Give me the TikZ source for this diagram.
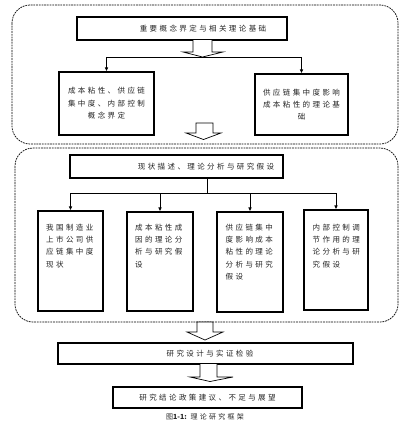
\documentclass[tikz,border=0pt]{standalone}
\usepackage{fontspec}
\newfontfamily\cjk[LetterSpace=32]{Noto Sans CJK SC}
\newfontfamily\cjkn{Noto Sans CJK SC}
\usetikzlibrary{arrows.meta}
\begin{document}
\begin{tikzpicture}[x=1pt,y=-1pt,
  dashbox/.style={draw, line width=0.7pt, dash pattern=on 1.8pt off 0.9pt, rounded corners=18pt},
  box/.style={draw, line width=1.1pt, fill=white, inner sep=0pt},
  txt/.style={font=\cjk\fontsize{7.5}{12.4}\selectfont, inner sep=0pt, text=black!85},
  barrow/.style={draw, line width=0.7pt, fill=white},
  conn/.style={line width=1pt},
  tip/.style={-{Latex[length=4pt,width=3.6pt]}}]
\useasboundingbox (0,0) rectangle (409,423);
% dashed frames
\draw[dashbox] (12,5) rectangle (398,144);
\draw[dashbox] (15,148) rectangle (398,322);
% section 1
\node[box, minimum width=210pt, minimum height=23pt] (t1) at (182,28.5) {};
\node[txt] (t1t) at (203,28.5) {重要概念界定与相关理论基础};
\draw[barrow] (193,40) -- (193,52) -- (183,52) -- (202.5,57) -- (223,52) -- (212,52) -- (212,40);
\node[box, minimum width=95pt, minimum height=63pt, txt, align=center] (b1) at (106.5,103.5) {成本粘性、供应链\\集中度、内部控制\\概念界定};
\node[box, minimum width=93pt, minimum height=61pt, txt, align=center] (b2) at (301.5,104.5) {供应链集中度影响\\成本粘性的理论基\\础};
\coordinate (bus1) at (200,57);
\draw[conn] (b1.north |- bus1) -- (b2.north |- bus1);
\draw[conn,tip] (b1.north |- bus1) -- (b1.north);
\draw[conn,tip] (b2.north |- bus1) -- (b2.north);
\draw[barrow] (196,123) -- (196,133) -- (186,133) -- (203.5,139.5) -- (221,133) -- (213,133) -- (213,123) -- cycle;
% section 2
\node[box, minimum width=213pt, minimum height=23pt] (t2) at (176.5,166.5) {};
\node[txt] (t2t) at (206,166.5) {现状描述、理论分析与研究假设};
\node[box, minimum width=65pt, minimum height=100pt] (c1) at (70.5,261) {};
\node[box, minimum width=66pt, minimum height=99pt] (c2) at (160,261.5) {};
\node[box, minimum width=66pt, minimum height=100pt] (c3) at (250,262) {};
\node[box, minimum width=64pt, minimum height=100pt] (c4) at (336,260) {};
\node[txt, anchor=north west, align=left] (c1t) at (46,223.5) {我国制造业\\上市公司供\\应链集中度\\现状};
\node[txt, anchor=north west, align=left] (c2t) at (135,223.5) {成本粘性成\\因的理论分\\析与研究假\\设};
\node[txt, anchor=north west, align=left] (c3t) at (225.5,223.5) {供应链集中\\度影响成本\\粘性的理论\\分析与研究\\假设};
\node[txt, anchor=north west, align=left] (c4t) at (312.5,223.5) {内部控制调\\节作用的理\\论分析与研\\究假设};
\coordinate (bus2) at (207,193);
\draw[conn] (t2.south -| bus2) -- (bus2);
\draw[conn] (c1.north |- bus2) -- (c4.north |- bus2);
\foreach \n in {c1,c2,c3,c4} \draw[conn,tip] (\n.north |- bus2) -- (\n.north);
\draw[barrow] (197,322) -- (197,332) -- (187,332) -- (205,340) -- (223,332) -- (213,332) -- (213,322) -- cycle;
% section 3
\node[box, minimum width=295pt, minimum height=21pt] (t3) at (205.5,353.5) {};
\node[txt] (t3t) at (210,353.5) {研究设计与实证检验};
\draw[barrow] (200,364) -- (200,377) -- (190,377) -- (210,381.5) -- (233,377) -- (217,377) -- (217,364);
\node[box, minimum width=189pt, minimum height=21pt, txt] (t4) at (207.5,397.5) {研究结论政策建议、不足与展望};
\node[txt, font=\cjk\fontsize{7}{8}\selectfont] (cap) at (205,417) {图{\cjkn\bfseries 1-1:}\ 理论研究框架};
\end{tikzpicture}
\end{document}
